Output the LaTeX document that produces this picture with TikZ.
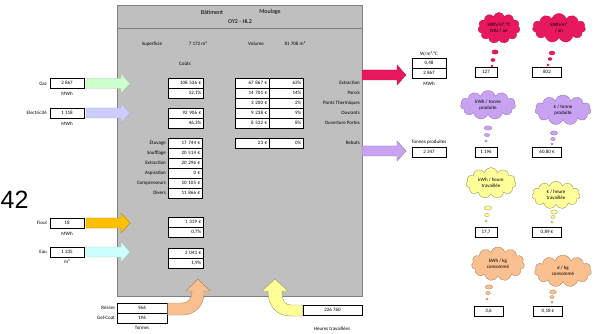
\documentclass[tikz,border=0pt]{standalone}
\usepackage{fontspec}
\setmainfont{Carlito}
\newfontfamily\bignum{Liberation Sans}
\usetikzlibrary{shapes.symbols}
\definecolor{boxgray}{HTML}{BFBFBF}
\definecolor{boxedge}{HTML}{7F7F7F}
\definecolor{gazc}{HTML}{CCFFCC}
\definecolor{elecc}{HTML}{CCCCFF}
\definecolor{fioulc}{HTML}{FFC000}
\definecolor{eauc}{HTML}{CCFFFF}
\definecolor{redc}{HTML}{E8185E}
\definecolor{lavc}{HTML}{C9A3F2}
\definecolor{yelc}{HTML}{FFFF99}
\definecolor{orac}{HTML}{FAC090}
\newcommand\fs{\fontsize{5}{6}\selectfont}
\newcommand\barrow[4]{\draw[#4] (#1,#3-5) -- (#2-9,#3-5) -- (#2-9,#3-10) -- (#2,#3) -- (#2-9,#3+10) -- (#2-9,#3+5) -- (#1,#3+5) -- cycle;}
\begin{document}
\begin{tikzpicture}[x=1pt,y=-1pt,font=\fs,
  vb/.style={draw=black, line width=0.5pt, fill=white, minimum height=10pt, inner ysep=0pt, text height=3.6pt, text depth=1pt},
  valr/.style={vb, inner xsep=2pt, text width=#1, align=right, anchor=west},
  valc/.style={vb, inner xsep=0pt, minimum width=#1},
  lbl/.style={inner sep=0pt},
  lbr/.style={inner sep=0pt, anchor=east},
  thought/.style={cloud, cloud puffs=11, cloud ignores aspect, align=center, inner sep=0pt, line width=0.4pt},
  bub/.style={line width=0.3pt}
]
\useasboundingbox (0,0) rectangle (600,334);
\node[font=\bignum\fontsize{25}{25}\selectfont, anchor=base west, inner sep=0pt] (pg) at (0.5,208) {42};

% main box
\node[draw=boxedge, fill=boxgray, line width=1pt, minimum width=245pt, minimum height=291pt, anchor=north west, inner sep=0pt] (main) at (117,5) {};
\draw[boxedge, line width=0.8pt] (117,28) -- (362,28);
\node[lbl, font=\fontsize{6}{7}\selectfont] (bat) at (212,12) {Bâtiment};
\node[lbl, font=\fontsize{6}{7}\selectfont] (moul) at (270,12) {Moulage};
\node[lbl, font=\fontsize{6}{7}\selectfont] (oy) at (240,22) {OY2 - HL2};
\node[lbl] (sup) at (152,44) {Superficie};
\node[lbl] (supv) at (198,44) {7 172 m²};
\node[lbl] (vol) at (256,44) {Volume};
\node[lbl] (volv) at (295,44) {81 708 m³};
\node[lbl] (couts) at (185,64) {Coûts};

% inputs
\node[lbr] (lgaz) at (47,83.5) {Gaz};
\node[valc=34pt] (gaz) at (67,83.5) {2 867};
\node[lbl] (ugaz) at (67,94) {MWh};
\barrow{86}{130}{83.5}{fill=gazc, draw=gazc!60!black!60, line width=0.4pt}
\node[lbr] (lel) at (47,113) {Electricité};
\node[valc=34pt] (el) at (67,113) {1 118};
\node[lbl] (uel) at (67,123.5) {MWh};
\barrow{86}{130}{113}{fill=elecc, draw=elecc!60!black!60, line width=0.4pt}
\node[lbr] (lfi) at (47,223) {Fioul};
\node[valc=34pt] (fi) at (67,223) {18};
\node[lbl] (ufi) at (67,233.5) {MWh};
\barrow{86}{130}{223}{fill=fioulc, draw=fioulc!70!black, line width=0.4pt}
\node[lbr] (leau) at (47,252) {Eau};
\node[valc=34pt] (eau) at (67,252) {1 335};
\node[lbl] (ueau) at (67,262) {m³};
\barrow{86}{130}{252}{fill=eauc, draw=eauc!60!black!60, line width=0.4pt}

% cost boxes left column
\node[valr=31pt] (c1) at (168,83) {108 536 €};
\node[valr=31pt] (c2) at (168,93) {52,1\%};
\node[valr=31pt] (c3) at (168,113) {92 906 €};
\node[valr=31pt] (c4) at (168,123) {46,3\%};
\node[valr=31pt] (f1) at (168,222) {1 319 €};
\node[valr=31pt] (f2) at (168,232) {0,7\%};
\node[valr=31pt] (e1) at (168,253) {2 043 €};
\node[valr=31pt] (e2) at (168,263) {1,9\%};

% table
\node[valr=30pt] (t1a) at (235,83) {67 867 €};
\node[valr=30pt] (t1b) at (269,83) {63\%};
\node[valr=30pt] (t2a) at (235,93) {14 701 €};
\node[valr=30pt] (t2b) at (269,93) {14\%};
\node[valr=30pt] (t3a) at (235,103) {3 200 €};
\node[valr=30pt] (t3b) at (269,103) {2\%};
\node[valr=30pt] (t4a) at (235,113) {9 238 €};
\node[valr=30pt] (t4b) at (269,113) {9\%};
\node[valr=30pt] (t5a) at (235,123) {8 532 €};
\node[valr=30pt] (t5b) at (269,123) {8\%};
\node[lbr] (l1) at (360,83) {Extraction};
\node[lbr] (l2) at (360,93) {Parois};
\node[lbr] (l3) at (360,103) {Ponts Thermiques};
\node[lbr] (l4) at (360,113) {Ouvrants};
\node[lbr] (l5) at (360,123) {Ouverture Portes};

% electricity breakdown
\node[lbr] (ml1) at (166,143) {Étuvage};
\node[lbr] (ml2) at (166,153) {Soufflage};
\node[lbr] (ml3) at (166,163) {Extraction};
\node[lbr] (ml4) at (166,173) {Aspiration};
\node[lbr] (ml5) at (166,183) {Compresseurs};
\node[lbr] (ml6) at (166,193) {Divers};
\node[valr=30pt] (m1) at (168,143) {17 744 €};
\node[valr=30pt] (m2) at (168,153) {20 514 €};
\node[valr=30pt] (m3) at (168,163) {20 296 €};
\node[valr=30pt] (m4) at (168,173) {0 €};
\node[valr=30pt] (m5) at (168,183) {10 105 €};
\node[valr=30pt] (m6) at (168,193) {11 866 €};
\node[valr=30pt] (r1a) at (235,143) {23 €};
\node[valr=30pt] (r1b) at (269,143) {0\%};
\node[lbr] (lreb) at (360,143) {Rebuts};

% bottom inputs
\node[lbr] (lres) at (115,308) {Résine};
\node[lbr] (lgel) at (115,318) {Gel-Coat};
\node[valc=50pt] (res) at (142,308) {966};
\node[valc=50pt] (gel) at (142,318) {196};
\node[lbl] (ton) at (142,328) {Tonnes};
\draw[fill=orac, draw=orac!70!black, line width=0.4pt] (167.5,303) -- (182,303) .. controls (188,303) and (192,299) .. (192,291) -- (186,291) -- (198,279) -- (210,291) -- (204,291) -- (204,293) .. controls (204,306) and (195,315) .. (182,315) -- (167.5,315) -- cycle;
\node[valc=59pt] (heu) at (332.5,310.5) {226 760};
\node[lbl] (lheu) at (332,329) {Heures travaillées};
\draw[fill=yelc, draw=yelc!60!black, line width=0.4pt] (302.5,305) -- (291,305) .. controls (285,305) and (282,301) .. (282,291) -- (288,291) -- (275,279) -- (262,291) -- (268,291) .. controls (268,307) and (277,316) .. (291,316) -- (302.5,316) -- cycle;

% outputs
\barrow{362}{406}{75}{fill=redc, draw=redc!80!black, line width=0.4pt}
\node[lbl] (lw) at (429,54) {W/m².°C};
\node[valc=34pt] (w1) at (429,63.5) {0,48};
\node[valc=34pt] (w2) at (429,73.5) {2 867};
\node[lbl] (uw) at (429,83.5) {MWh};
\barrow{362}{406}{151}{fill=lavc, draw=lavc!70!black, line width=0.4pt}
\node[lbl] (ltp) at (429,142) {Tonnes produites};
\node[valc=34pt] (tp) at (429,152) {2 347};

% red clouds
\node[thought, fill=redc, draw=redc!85!black, minimum width=42pt, minimum height=31pt] (rc1) at (499,28) {kWh/m³.°C\\DJU / an};
\node[thought, fill=redc, draw=redc!85!black, minimum width=53pt, minimum height=29pt] (rc2) at (559,28) {kWh/m³\\/ an};
\foreach \x/\y/\a/\b in {495/52/3.2/2.2, 493/60/2.2/1.6, 492/66/1.3/1.1, 552/53/3/2, 550/59/2/1.5, 548/65/1.3/1.1}
  \filldraw[bub, fill=redc, draw=redc!85!black] (\x,\y) ellipse [x radius=\a pt, y radius=\b pt];
\node[valc=22pt] (v127) at (486,72.5) {127};
\node[valc=29pt] (v802) at (547,72.5) {802};

% lavender clouds
\node[thought, fill=lavc, draw=lavc!75!black, minimum width=55pt, minimum height=29pt] (lc1) at (488,105) {kWh / tonne\\produite};
\node[thought, fill=lavc, draw=lavc!75!black, minimum width=56pt, minimum height=30pt] (lc2) at (563,110) {€ / tonne\\produite};
\foreach \x/\y/\a/\b in {488/128/4/2.2, 487/135/2.6/1.7, 486/141/1.3/1.1, 554/133/3.6/2.2, 553/139/2.4/1.6, 552/144/1.3/1.1}
  \filldraw[bub, fill=lavc, draw=lavc!75!black] (\x,\y) ellipse [x radius=\a pt, y radius=\b pt];
\node[valc=22pt] (v1196) at (486,152.5) {1 196};
\node[valc=29pt] (v6080) at (547,152.5) {60,80 €};

% yellow clouds
\node[thought, fill=yelc, draw=yelc!60!black, minimum width=50pt, minimum height=31pt] (yc1) at (491,183) {kWh / heure\\travaillée};
\node[thought, fill=yelc, draw=yelc!60!black, minimum width=48pt, minimum height=28pt] (yc2) at (556,195) {€ / heure\\travaillée};
\foreach \x/\y/\a/\b in {488/208/3.6/2.2, 487/215/2.4/1.6, 486/221/1.3/1.1, 554/212/3.4/2.1, 553/217/2.2/1.5, 552/222/1.3/1.1}
  \filldraw[bub, fill=yelc, draw=yelc!60!black] (\x,\y) ellipse [x radius=\a pt, y radius=\b pt];
\node[valc=22pt] (v177) at (486,232.5) {17,7};
\node[valc=29pt] (v089) at (547,232.5) {0,89 €};

% orange clouds
\node[thought, fill=orac, draw=orac!70!black, minimum width=53pt, minimum height=34pt] (oc1) at (498,264) {kWh / kg\\consommé};
\node[thought, fill=orac, draw=orac!70!black, minimum width=57pt, minimum height=32pt] (oc2) at (563,271) {€ / kg\\consommé};
\foreach \x/\y/\a/\b in {489/287/3.6/2.2, 488/293/2.4/1.6, 487/299/1.3/1.1, 553/292/3.4/2.1, 552/297/2.2/1.5, 552/302/1.3/1.1}
  \filldraw[bub, fill=orac, draw=orac!70!black] (\x,\y) ellipse [x radius=\a pt, y radius=\b pt];
\node[valc=29pt] (v36) at (488.5,311.5) {3,6};
\node[valc=29pt] (v018) at (548,311.5) {0,18 €};
\end{tikzpicture}
\end{document}
